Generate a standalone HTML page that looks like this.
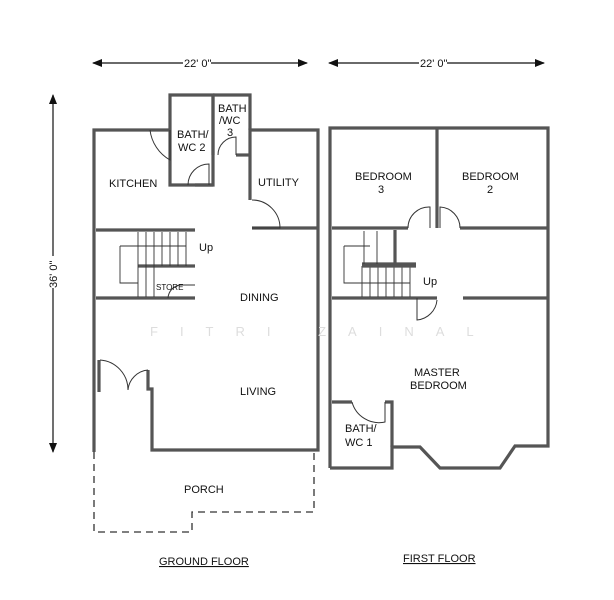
<!DOCTYPE html>
<html><head><style>html,body{margin:0;padding:0;background:#fff}svg{display:block}text{font-family:"Liberation Sans",sans-serif;font-size:11px;fill:#111}</style></head><body>
<svg width="614" height="600" viewBox="0 0 614 600" xmlns="http://www.w3.org/2000/svg">
<defs><marker id="ah" markerWidth="10" markerHeight="8" refX="9" refY="4" orient="auto-start-reverse" markerUnits="userSpaceOnUse"><path d="M0,0 L10,4 L0,8 z" fill="#111"/></marker></defs>
<line x1="93" y1="63" x2="307" y2="63" stroke="#111" stroke-width="1.2" marker-start="url(#ah)" marker-end="url(#ah)"/>
<rect x="183" y="56" width="28" height="12" fill="#fff"/><text x="184" y="67">22' 0"</text>
<line x1="329" y1="63" x2="544" y2="63" stroke="#111" stroke-width="1.2" marker-start="url(#ah)" marker-end="url(#ah)"/>
<rect x="419" y="56" width="28" height="12" fill="#fff"/><text x="420" y="67">22' 0"</text>
<line x1="53" y1="95" x2="53" y2="452" stroke="#111" stroke-width="1.2" marker-start="url(#ah)" marker-end="url(#ah)"/>
<rect x="46" y="256" width="14" height="32" fill="#fff"/><text transform="translate(57,288) rotate(-90)">36' 0"</text>
<g fill="none" stroke="#555" stroke-width="3.2" stroke-linejoin="miter">
<polyline points="170,130 94,130 94,452"/>
<polyline points="148,370 148,389 152,389 152,450 318,450 318,130 250,130 250,200"/>
<line x1="99" y1="360" x2="99" y2="392"/>
<polyline points="170,132 170,185 213,185 213,95 170,95 170,132"/>
<polyline points="213,95 250,95 250,130"/>
<line x1="213" y1="95" x2="213" y2="155"/>
<line x1="236" y1="155" x2="250" y2="155"/>
<line x1="195" y1="185" x2="213" y2="185"/>
<line x1="252" y1="228" x2="318" y2="228"/>
<polyline points="96,230 195,230"/>
<line x1="96" y1="298" x2="195" y2="298"/>
<line x1="138" y1="266" x2="195" y2="266"/>
<polyline points="330,468 330,128 548,128 548,446 515,446 500,468 440,468 420,447 392,447 392,468 330,468"/>
<line x1="437" y1="128" x2="437" y2="228"/>
<line x1="332" y1="228" x2="408" y2="228"/>
<line x1="460" y1="228" x2="548" y2="228"/>
<line x1="332" y1="298" x2="437" y2="298"/>
<line x1="463" y1="298" x2="548" y2="298"/>
<line x1="395" y1="230" x2="395" y2="263"/>
<line x1="362" y1="264" x2="416" y2="264"/>
<polyline points="332,402 352,402"/>
<polyline points="385,402 392,402 392,447"/>
</g>
<g fill="none" stroke="#333" stroke-width="1">
<path d="M150,130 A40,40 0 0 0 170,160 L170,130"/>
<path d="M188,185 A21,21 0 0 1 209,164 L209,185"/>
<path d="M218,155 A18,18 0 0 1 236,137 L236,155"/>
<path d="M252,200 A28,28 0 0 1 280,228 L252,228"/>
<path d="M100,360 A30,30 0 0 1 128,390"/><path d="M148,370 A22,22 0 0 0 128,390"/>
<path d="M168,298 A14,14 0 0 1 180,285 L195,285"/>
<path d="M408,228 A21,21 0 0 1 430,207 L430,228"/>
<path d="M460,228 A21,21 0 0 0 440,207 L440,228"/>
<path d="M437,300 A22,22 0 0 1 417,320 L417,298"/>
<path d="M352,402 A28,28 0 0 0 385,422 L385,402"/>
</g>
<g stroke="#333" stroke-width="0.9" fill="none">
<path d="M138,232 V297 M146,232 V266 M154,232 V266 M162,232 V266 M170,232 V266 M178,232 V266 M186,232 V266 M146,266 V297 M154,266 V297"/>
<path d="M120,246 H186 M120,246 V283 H138"/>
<path d="M362,266 V297 M370,266 V297 M378,266 V297 M386,266 V297 M394,266 V297 M402,266 V297 M410,266 V297 M377,231 V264 M364,231 V264"/>
<path d="M344,246 H370 M344,246 V283 H410"/>
</g>
<g stroke="#555" stroke-width="3.2" fill="none"><line x1="362" y1="266" x2="416" y2="266"/></g>
<text x="109" y="187">KITCHEN</text>
<text x="177" y="138">BATH/</text><text x="178" y="151">WC 2</text>
<text x="218" y="112">BATH</text><text x="219" y="124">/WC</text><text x="227" y="136">3</text>
<text x="258" y="186">UTILITY</text>
<text x="199" y="251">Up</text>
<text x="156" y="290" style="font-size:8px">STORE</text>
<text x="240" y="301">DINING</text>
<text x="240" y="395">LIVING</text>
<text x="184" y="493">PORCH</text>
<text x="355" y="180">BEDROOM</text><text x="378" y="193">3</text>
<text x="462" y="180">BEDROOM</text><text x="487" y="193">2</text>
<text x="423" y="285">Up</text>
<text x="414" y="376">MASTER</text><text x="410" y="389">BEDROOM</text>
<text x="345" y="432">BATH/</text><text x="345" y="446">WC 1</text>
<text x="159" y="565" text-decoration="underline">GROUND FLOOR</text>
<text x="403" y="562" text-decoration="underline">FIRST FLOOR</text>
<text x="150" y="336" style="font-size:13px;fill:#ddd;letter-spacing:22px">FITRI ZAINAL</text>
<polyline points="94,452 94,532 192,532 192,512 314,512 314,452" fill="none" stroke="#333" stroke-width="1.3" stroke-dasharray="7,5"/>
</svg>
</body></html>
